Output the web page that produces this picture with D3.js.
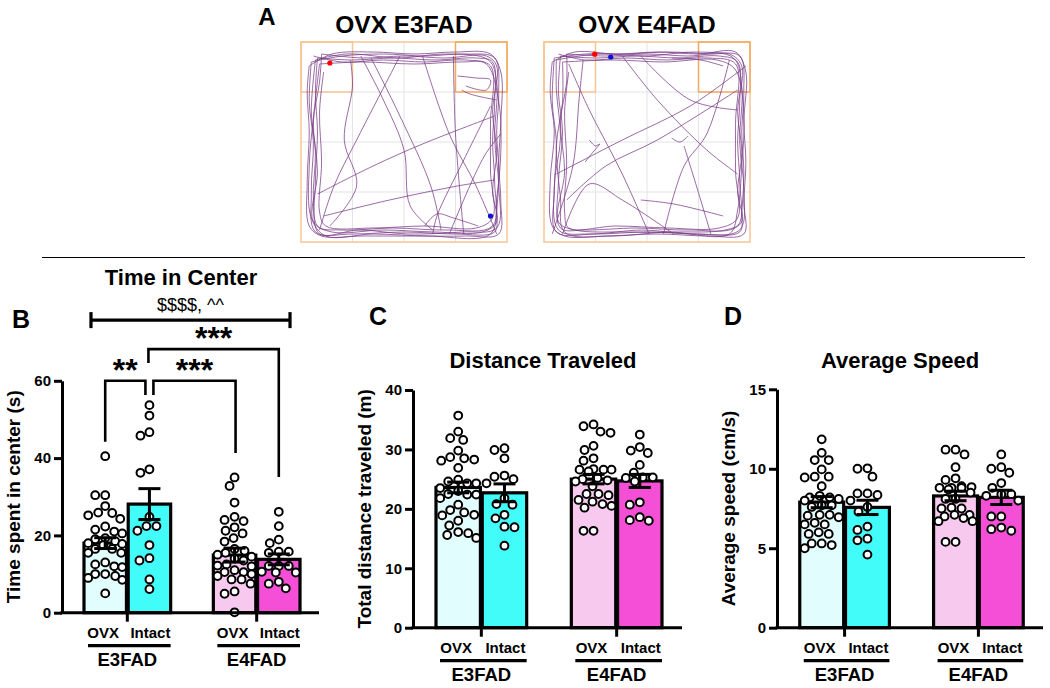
<!DOCTYPE html>
<html><head><meta charset="utf-8">
<script src="https://cdn.jsdelivr.net/npm/d3@7"></script>
<style>
body{margin:0;background:#fff}
svg{display:block}
text{font-family:"Liberation Sans",Arial,Helvetica,sans-serif}
</style>
</head><body>
<svg id="c" width="1050" height="688"></svg>
<script>
// ---------------- DATA ----------------
const groups = ["E3FAD", "E4FAD"];
const conditions = ["OVX", "Intact"];

// Panel B: time in center (s)
const timeMeans = [18.0, 28.1, 14.9, 13.8];
const timeSEM = [1.4, 4.0, 1.8, 1.4];
const timeE3OVX = [40.5, 30.4, 30.4, 27.6, 25.9, 25.8, 25.2, 24.3, 22.3, 21.5, 21.0, 20.5, 19.3, 19.0, 18.5, 18.0, 17.8, 17.5, 16.5, 16.5, 15.5, 15.5, 13.0, 12.5, 12.0, 11.8, 10.0, 10.0, 9.5, 9.0, 8.5, 5.0];
const timeE3Intact = [53.7, 51.0, 46.7, 45.8, 37.1, 36.2, 24.8, 22.4, 22.4, 21.2, 17.5, 14.1, 13.5, 8.6, 6.1];
const timeE4OVX = [35.0, 32.8, 28.5, 24.8, 24.0, 23.7, 22.1, 21.2, 20.5, 19.3, 18.4, 16.5, 16.0, 15.5, 15.0, 14.5, 14.0, 13.5, 12.5, 12.2, 12.0, 11.0, 10.5, 10.5, 10.0, 9.5, 8.6, 8.6, 7.5, 5.5, 4.9, 0.1];
const timeE4Intact = [26.1, 22.4, 18.9, 18.0, 15.8, 15.8, 15.5, 12.1, 12.1, 12.1, 10.6, 10.4, 10.4, 8.0, 7.5, 6.3];
const timeTicks = [0, 20, 40, 60];

// Panel C: total distance traveled (m)
const distMeans = [23.6, 22.7, 25.0, 24.7];
const distSEM = [0.9, 1.5, 0.8, 1.1];
const distE3OVX = [35.7, 33.0, 31.9, 31.6, 29.8, 28.7, 28.5, 28.3, 28.1, 26.9, 24.9, 24.6, 24.3, 24.3, 23.5, 23.0, 22.5, 22.4, 22.4, 21.8, 20.7, 19.8, 19.4, 19.0, 18.9, 18.0, 17.2, 16.1, 15.9, 15.6, 15.1];
const distE3Intact = [30.2, 29.9, 28.5, 25.6, 25.4, 25.0, 24.3, 21.8, 20.8, 20.7, 19.0, 18.4, 17.0, 16.9, 13.8];
const distE4OVX = [34.2, 33.9, 33.0, 32.8, 30.6, 29.9, 28.5, 28.1, 26.7, 26.6, 26.6, 26.6, 26.3, 25.2, 25.0, 24.8, 24.6, 23.8, 22.5, 22.5, 22.3, 21.5, 21.2, 20.8, 20.5, 20.2, 16.3, 16.3];
const distE4Intact = [32.5, 30.4, 29.8, 29.4, 27.4, 26.1, 25.3, 25.3, 25.2, 24.6, 21.1, 20.7, 18.6, 18.1, 18.0];
const distTicks = [0, 10, 20, 30, 40];

// Panel D: average speed (cm/s)
const speedMeans = [7.9, 7.57, 8.29, 8.2];
const speedSEM = [0.35, 0.45, 0.3, 0.45];
const speedE3OVX = [11.85, 11.0, 10.55, 10.55, 9.96, 9.5, 9.5, 9.45, 8.9, 8.3, 8.2, 8.2, 8.1, 8.0, 7.7, 7.7, 7.6, 7.1, 7.1, 6.95, 7.05, 6.5, 6.5, 6.6, 5.9, 5.9, 6.0, 5.3, 5.2, 5.3, 5.0];
const speedE3Intact = [10.03, 10.0, 9.5, 8.45, 8.45, 8.35, 8.0, 7.6, 7.3, 6.36, 6.15, 5.6, 5.5, 4.6];
const speedE4OVX = [11.2, 11.2, 10.9, 10.1, 9.4, 9.3, 8.9, 8.8, 8.8, 8.8, 8.85, 8.7, 8.5, 8.1, 8.1, 7.5, 7.5, 7.55, 7.1, 7.1, 7.0, 6.9, 6.7, 6.7, 5.4, 5.4];
const speedE4Intact = [10.9, 10.1, 10.0, 9.75, 9.1, 8.8, 8.4, 8.4, 8.3, 8.0, 7.0, 7.0, 6.3, 6.2, 6.1];
const speedTicks = [0, 5, 10, 15];

// Panel B significance annotations
const comparisons = [
  { a: ["E3FAD", "OVX"], b: ["E3FAD", "Intact"], label: "**" },
  { a: ["E3FAD", "Intact"], b: ["E4FAD", "OVX"], label: "***" },
  { a: ["E3FAD", "Intact"], b: ["E4FAD", "Intact"], label: "***" }
];
const mainEffectLabel = "$$$$, ^^";

// Panel A: open-field tracks, arena units 0-100
const arenaTitles = ["OVX E3FAD", "OVX E4FAD"];
const tracksE3 = [
  [[5,10],[20,7],[40,6],[60,7],[80,6],[94,8],[96,25],[95,45],[96,65],[95,85],[94,95],[75,96],[50,95],[25,96],[7,95],[5,75],[6,50],[4,30],[5,10]],
  [[8,8],[25,9],[45,8],[65,9],[85,8],[93,10],[94,30],[93,50],[94,70],[93,92],[70,94],[45,93],[20,94],[8,92],[7,70],[8,45],[7,25],[8,8]],
  [[4,12],[15,6],[35,5],[55,6],[75,5],[92,6],[97,15],[97,40],[96,60],[97,80],[96,96],[80,97],[55,97],[30,97],[10,97],[4,92],[3,70],[4,45],[3,25],[4,12]],
  [[10,6],[30,8],[50,7],[70,8],[90,7],[95,12],[93,35],[95,55],[93,75],[95,90],[88,95],[65,95],[40,94],[15,95],[6,90],[8,65],[6,40],[9,20],[10,6]],
  [[6,7],[20,10],[40,9],[60,10],[80,9],[92,12],[92,40],[92,65],[93,88],[85,93],[60,92],[35,93],[12,92],[9,85],[10,60],[9,35],[11,15]],
  [[7,9],[22,6],[48,8],[70,6],[91,9],[95,20],[94,48],[96,72],[95,93],[78,95],[52,96],[28,94],[9,96],[6,80],[7,55],[5,35],[7,9]],
  [[9,11],[30,10],[55,11],[78,10],[90,11],[96,30],[97,55],[95,78],[92,96],[62,97],[35,96],[12,97],[5,88],[4,62],[6,38],[9,11]],
  [[9,94],[16,72],[27,49],[43,17],[48,7]],
  [[8,76],[35,62],[59,51],[94,37]],
  [[11,87],[43,79],[76,72],[94,69]],
  [[59,7],[72,46],[85,72],[95,96]],
  [[74,7],[75,46],[79,96]],
  [[29,7],[40,29],[50,54],[53,82],[64,94]],
  [[34,8],[48,37],[63,72],[68,94]],
  [[92,32],[79,59],[66,87],[64,96]],
  [[24,9],[25,22],[21,49],[27,72],[14,92]],
  [[76,17],[85,18],[92,19],[90,24],[80,22]],
  [[97,46],[89,57],[72,96]],
  [[95,29],[82,26],[78,24]],
  [[60,92],[66,86],[74,88],[86,92]]
];
const tracksE4 = [
  [[5,8],[20,6],[40,6],[60,5],[80,6],[95,7],[97,25],[96,45],[97,65],[96,85],[95,95],[75,96],[50,95],[25,96],[6,95],[5,75],[6,50],[4,30],[5,8]],
  [[8,7],[25,8],[45,7],[65,8],[85,7],[94,10],[95,30],[94,50],[95,70],[94,92],[70,94],[45,93],[20,94],[8,93],[7,70],[9,45],[7,25],[8,7]],
  [[4,10],[15,5],[35,6],[55,5],[75,6],[93,5],[98,15],[97,40],[98,60],[97,80],[97,96],[80,97],[55,96],[30,97],[10,97],[4,92],[3,70],[5,45],[3,25],[4,10]],
  [[11,6],[30,7],[50,6],[70,7],[90,6],[96,12],[94,35],[96,55],[94,75],[96,90],[88,94],[65,95],[40,95],[15,94],[7,90],[10,65],[8,40],[11,20],[11,6]],
  [[7,6],[20,9],[40,8],[60,9],[80,8],[93,11],[93,40],[93,65],[94,88],[85,93],[60,93],[35,92],[12,93],[10,85],[11,60],[10,35],[12,15]],
  [[6,9],[26,6],[50,7],[74,5],[92,8],[96,22],[95,50],[97,74],[95,94],[72,96],[48,94],[22,96],[7,94],[5,72],[8,48],[6,24],[6,9]],
  [[9,10],[34,9],[58,10],[84,9],[93,14],[97,36],[96,62],[94,84],[90,96],[60,95],[34,97],[10,95],[8,78],[6,52],[9,30],[9,10]],
  [[6,66],[38,49],[71,32],[98,12]],
  [[11,79],[30,62],[55,49],[94,24]],
  [[12,11],[22,34],[38,66],[51,96]],
  [[38,7],[55,29],[79,54],[94,66]],
  [[47,7],[71,29],[94,34]],
  [[68,52],[74,72],[81,96]],
  [[47,79],[63,81],[87,87]],
  [[22,49],[25,52],[27,51],[23,56],[20,60]],
  [[90,9],[79,46],[68,62],[58,96]],
  [[4,96],[14,62],[17,29],[19,9]],
  [[9,96],[22,71],[38,79],[63,96]],
  [[87,12],[76,9],[62,8]],
  [[62,48],[66,50],[70,47]]
];
const startPoints = [[14,10.5],[24.6,6.1]];
const endPoints = [[92,87],[32.4,7.5]];

// ---------------- DRAW ----------------
const svg = d3.select("#c");
const black = "#000";
const fills = { "E3FAD|OVX": "#e1fdfd", "E3FAD|Intact": "#41fcf9", "E4FAD|OVX": "#f8c9ee", "E4FAD|Intact": "#f44fd6" };

// Panel A
const arenaLeft = [301, 544];
arenaTitles.forEach((t, i) => {
  const ax = d3.scaleLinear().domain([0, 100]).range([arenaLeft[i], arenaLeft[i] + 206]);
  const ay = d3.scaleLinear().domain([0, 100]).range([42, 242]);
  const g = svg.append("g");
  [25, 50, 75].forEach(v => {
    g.append("line").attr("x1", ax(v)).attr("x2", ax(v)).attr("y1", ay(0)).attr("y2", ay(100)).attr("stroke", "#e3e3ea").attr("stroke-width", 1);
    g.append("line").attr("y1", ay(v)).attr("y2", ay(v)).attr("x1", ax(0)).attr("x2", ax(100)).attr("stroke", "#e3e3ea").attr("stroke-width", 1);
  });
  g.append("rect").attr("x", ax(0)).attr("y", ay(0)).attr("width", ax(100) - ax(0)).attr("height", ay(100) - ay(0))
    .attr("fill", "none").attr("stroke", "#f8c593").attr("stroke-width", 1.5);
  g.append("rect").attr("x", ax(0)).attr("y", ay(0)).attr("width", ax(25) - ax(0)).attr("height", ay(25) - ay(0))
    .attr("fill", "none").attr("stroke", "#f8c593").attr("stroke-width", 1.5);
  g.append("rect").attr("x", ax(75)).attr("y", ay(0)).attr("width", ax(100) - ax(75)).attr("height", ay(25) - ay(0))
    .attr("fill", "none").attr("stroke", "#f4a85e").attr("stroke-width", 1.5);
  const line = d3.line().x(d => ax(d[0])).y(d => ay(d[1])).curve(d3.curveCatmullRom.alpha(0.5));
  g.selectAll("path.trk").data(i === 0 ? tracksE3 : tracksE4).join("path").attr("class", "trk")
    .attr("d", line).attr("fill", "none").attr("stroke", "#7a3d88").attr("stroke-width", 0.9).attr("stroke-opacity", 0.85);
  g.append("circle").attr("cx", ax(startPoints[i][0])).attr("cy", ay(startPoints[i][1])).attr("r", 2.6).attr("fill", "#f00");
  g.append("circle").attr("cx", ax(endPoints[i][0])).attr("cy", ay(endPoints[i][1])).attr("r", 2.6).attr("fill", "#1010d0");
  svg.append("text").attr("x", ax(50)).attr("y", 33).attr("text-anchor", "middle")
    .attr("font-size", 24.5).attr("font-weight", "bold").text(t);
});
svg.append("text").attr("x", 267).attr("y", 25).attr("text-anchor", "middle").attr("font-size", 24).attr("font-weight", "bold").text("A");
svg.append("line").attr("x1", 42).attr("x2", 1025).attr("y1", 257.5).attr("y2", 257.5).attr("stroke", black).attr("stroke-width", 1.2);

// Swarm layout (deterministic)
function swarm(vals, y, cx, half, d) {
  const pts = vals.map(v => ({ v, y: y(v) })).sort((a, b) => a.y - b.y);
  const placed = [];
  pts.forEach(p => {
    let best = null, bestOverlap = Infinity;
    for (let k = 0; k <= 2 * half; k++) {
      const off = (k % 2 === 0 ? 1 : -1) * Math.ceil(k / 2);
      if (Math.abs(off) > half) continue;
      const x = cx + off;
      let ov = 0;
      placed.forEach(q => { const dd = Math.hypot(q.x - x, q.y - p.y); if (dd < d) ov += d - dd; });
      if (ov === 0) { best = x; break; }
      if (ov < bestOverlap) { bestOverlap = ov; best = x; }
    }
    p.x = best; placed.push(p);
  });
  return placed;
}

function panel(o) {
  const g = svg.append("g");
  const y = d3.scaleLinear().domain(o.domain).range([o.yBottom, o.yTop]);
  const xg = d3.scaleBand().domain(groups).range([o.x0, o.x1]).paddingInner(0.33).paddingOuter(0.17);
  const xc = d3.scaleBand().domain(conditions).range([0, xg.bandwidth()]).paddingInner(0.04);
  const series = [];
  groups.forEach((gr, gi) => conditions.forEach((c, ci) => {
    const k = gi * 2 + ci;
    series.push({ gr, c, mean: o.means[k], sem: o.sems[k], vals: o.values[k], x: xg(gr) + xc(c), w: xc.bandwidth() });
  }));
  g.selectAll("rect.bar").data(series).join("rect").attr("class", "bar")
    .attr("x", d => d.x).attr("width", d => d.w)
    .attr("y", d => y(d.mean)).attr("height", d => y(0) - y(d.mean))
    .attr("fill", d => fills[d.gr + "|" + d.c]).attr("stroke", black).attr("stroke-width", 3.2);
  series.forEach(s => {
    const pts = swarm(s.vals, y, s.x + s.w / 2, s.w / 2 - 4, 9.6);
    g.selectAll(null).data(pts).join("circle").attr("cx", d => d.x).attr("cy", d => d.y).attr("r", 3.9)
      .attr("fill", "#fff").attr("stroke", black).attr("stroke-width", 2);
  });
  series.forEach(s => {
    const cx = s.x + s.w / 2;
    const eg = g.append("g").attr("stroke", black).attr("stroke-width", 3);
    eg.append("line").attr("x1", cx).attr("x2", cx).attr("y1", y(s.mean - s.sem)).attr("y2", y(s.mean + s.sem));
    [s.mean - s.sem, s.mean + s.sem].forEach(v => eg.append("line").attr("x1", cx - 11).attr("x2", cx + 11).attr("y1", y(v)).attr("y2", y(v)));
  });
  const ya = g.append("g").attr("transform", `translate(${o.x0},0)`)
    .call(d3.axisLeft(y).tickValues(o.ticks).tickSize(8).tickSizeOuter(0).tickPadding(3));
  ya.select(".domain").attr("stroke", black).attr("stroke-width", 3);
  ya.selectAll(".tick line").attr("stroke", black).attr("stroke-width", 3);
  ya.selectAll(".tick text").attr("font-size", 15).attr("font-weight", "bold").attr("fill", black)
    .attr("font-family", '"Liberation Sans",Arial,sans-serif');
  g.append("line").attr("x1", o.x0 - 1.5).attr("x2", o.x1 - 3).attr("y1", y(0)).attr("y2", y(0)).attr("stroke", black).attr("stroke-width", 3);
  groups.forEach(gr => {
    const cx = xg(gr) + xg.bandwidth() / 2;
    g.append("line").attr("x1", cx).attr("x2", cx).attr("y1", y(0)).attr("y2", y(0) + 9).attr("stroke", black).attr("stroke-width", 3);
    g.append("line").attr("x1", xg(gr) + 4).attr("x2", xg(gr) + xg.bandwidth()).attr("y1", y(0) + 33).attr("y2", y(0) + 33).attr("stroke", black).attr("stroke-width", 3.2);
    g.append("text").attr("x", cx).attr("y", y(0) + 53).attr("text-anchor", "middle").attr("font-size", 18.5).attr("font-weight", "bold").text(gr);
    conditions.forEach(c => {
      g.append("text").attr("x", xg(gr) + xc(c) + xc.bandwidth() / 2 + (c === "OVX" ? -2 : 1)).attr("y", y(0) + 25)
        .attr("text-anchor", "middle").attr("font-size", 15).attr("font-weight", "bold").text(c);
    });
  });
  const ym = (o.yBottom + o.yTop) / 2;
  g.append("text").attr("transform", `translate(${o.x0 - 42},${ym}) rotate(-90)`).attr("text-anchor", "middle")
    .attr("font-size", 19).attr("font-weight", "bold").text(o.yTitle);
  g.append("text").attr("x", o.titleX).attr("y", o.titleY).attr("text-anchor", "middle")
    .attr("font-size", 22).attr("font-weight", "bold").text(o.title);
  g.append("text").attr("x", o.letterX).attr("y", o.letterY).attr("font-size", 25).attr("font-weight", "bold").text(o.letter);
  return { y, xg, xc, g };
}

const pB = panel({ domain: [0, 60], yBottom: 612.7, yTop: 380.8, x0: 62, x1: 322, ticks: timeTicks,
  means: timeMeans, sems: timeSEM, values: [timeE3OVX, timeE3Intact, timeE4OVX, timeE4Intact],
  yTitle: "Time spent in center (s)", title: "Time in Center", titleX: 181, titleY: 285,
  letter: "B", letterX: 12, letterY: 328 });
const pC = panel({ domain: [0, 40], yBottom: 627.7, yTop: 390, x0: 413, x1: 685, ticks: distTicks,
  means: distMeans, sems: distSEM, values: [distE3OVX, distE3Intact, distE4OVX, distE4Intact],
  yTitle: "Total distance traveled (m)", title: "Distance Traveled", titleX: 543, titleY: 368,
  letter: "C", letterX: 369, letterY: 325 });
const pD = panel({ domain: [0, 15], yBottom: 627.7, yTop: 389.3, x0: 777, x1: 1046, ticks: speedTicks,
  means: speedMeans, sems: speedSEM, values: [speedE3OVX, speedE3Intact, speedE4OVX, speedE4Intact],
  yTitle: "Average speed (cm/s)", title: "Average Speed", titleX: 900, titleY: 368,
  letter: "D", letterX: 724, letterY: 325 });

// Significance brackets on panel B
(function () {
  const { y, xg, xc, g } = pB;
  const cxOf = (gr, c) => xg(gr) + xc(c) + xc.bandwidth() / 2;
  const bg = g.append("g").attr("stroke", black).attr("stroke-width", 2.6).attr("fill", "none");
  const lx1 = xg("E3FAD") + 7, lx2 = xg("E4FAD") + xg.bandwidth() - 10;
  bg.append("line").attr("x1", lx1).attr("x2", lx2).attr("y1", y(75.7)).attr("y2", y(75.7)).attr("stroke-width", 3.2);
  [lx1, lx2].forEach(x => bg.append("line").attr("x1", x).attr("x2", x).attr("y1", y(75.7) - 8).attr("y2", y(75.7) + 8).attr("stroke-width", 3.2));
  g.append("text").attr("x", (lx1 + lx2) / 2).attr("y", y(75.7) - 9).attr("text-anchor", "middle").attr("font-size", 18).text(mainEffectLabel);
  const spec = [
    { top: 60, legA: 44.2, legB: 56.3, dxA: 0, dxB: -4 },
    { top: 60, legA: 56.3, legB: 41.3, dxA: 4, dxB: 1 },
    { top: 68.2, legA: 64.6, legB: 35.1, dxA: -1, dxB: 0 }
  ];
  comparisons.forEach((cmp, i) => {
    const s = spec[i];
    const xa = cxOf(...cmp.a) + s.dxA, xb = cxOf(...cmp.b) + s.dxB;
    bg.append("path").attr("d", d3.line()([[xa, y(s.legA)], [xa, y(s.top)], [xb, y(s.top)], [xb, y(s.legB)]]));
    g.append("text").attr("x", (xa + xb) / 2).attr("y", y(s.top) + 0).attr("text-anchor", "middle")
      .attr("font-size", 32).attr("font-weight", "bold").text(cmp.label);
  });
})();
</script>
</body></html>
